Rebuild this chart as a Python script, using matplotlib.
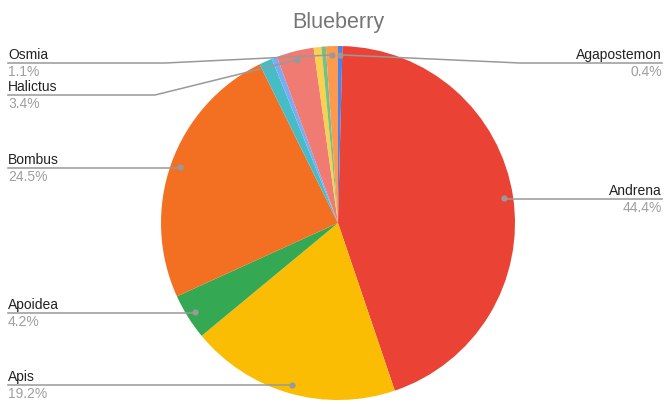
import numpy as np
import matplotlib
matplotlib.use("Agg")
import matplotlib.pyplot as plt

# Donnees (sens horaire depuis midi)
genres = ["Agapostemon", "Andrena", "Apis", "Apoidea", "Bombus", "Ceratina",
          "Colletes", "Halictus", "Lasioglossum", "Megachile", "Osmia"]
parts = [0.4, 44.4, 19.2, 4.2, 24.5, 1.2, 0.5, 3.4, 0.7, 0.4, 1.1]
couleurs = ["#4285F4", "#EA4335", "#FBBC04", "#34A853", "#F37022", "#46BDC6",
            "#7BAAF7", "#F07B72", "#FCD04F", "#71C287", "#FF994D"]
etiquettes = ["Agapostemon", "Andrena", "Apis", "Apoidea", "Bombus", "Halictus", "Osmia"]

W, H = 670, 404
cx, cy, R = 338, 223, 177

# position des etiquettes: (cote, y de la ligne, x du coude ou None)
placement = {
    "Osmia": ("left", 63, 165),
    "Halictus": ("left", 95, 155),
    "Bombus": ("left", 168, None),
    "Apoidea": ("left", 313, None),
    "Apis": ("left", 385, None),
    "Agapostemon": ("right", 63, 520),
    "Andrena": ("right", 199, None),
}

plt.rcParams['font.family'] = ['Liberation Sans', 'DejaVu Sans']

fig = plt.figure(figsize=(W / 100, H / 100), dpi=100)
ax = fig.add_axes([0, 0, 1, 1])

# axe en pixels (y vers le haut)
ax.pie(parts, colors=couleurs, startangle=90, counterclock=False,
       center=(cx, H - cy), radius=R, wedgeprops=dict(linewidth=0))
ax.set_xlim(0, W)
ax.set_ylim(0, H)
ax.set_aspect('equal')
ax.axis('off')

fig.text(0.5045, 1 - 28 / H, "Blueberry", ha='center', va='baseline',
         fontsize=15.5, color='#757575')

cumul = np.cumsum([0] + parts)
total = cumul[-1]
for i, nom in enumerate(genres):
    if nom not in etiquettes:
        continue
    milieu = (cumul[i] + cumul[i + 1]) / 2 / total
    ang = np.deg2rad(milieu * 360)
    px = cx + 0.95 * R * np.sin(ang)
    py = cy - 0.95 * R * np.cos(ang)
    cote, ly, coude = placement[nom]
    if cote == "left":
        xt = 8
        ha = 'left'
    else:
        xt = 662
        ha = 'right'
    if coude is None:
        coude = px
    xs = [xt, coude, px]
    ys = [ly, ly, py]
    ax.plot(xs, [H - v for v in ys], color='#999999', lw=1.1)
    ax.plot(px, H - py, 'o', color='#999999', markersize=4.5, markeredgewidth=0)
    ax.text(xt, H - (ly - 4.3), nom, ha=ha, va='baseline', fontsize=10, color='#222222')
    ax.text(xt, H - (ly + 13.3), "%.1f%%" % parts[i], ha=ha, va='baseline',
            fontsize=10, color='#9e9e9e')

fig.savefig("out.png", dpi=100)
